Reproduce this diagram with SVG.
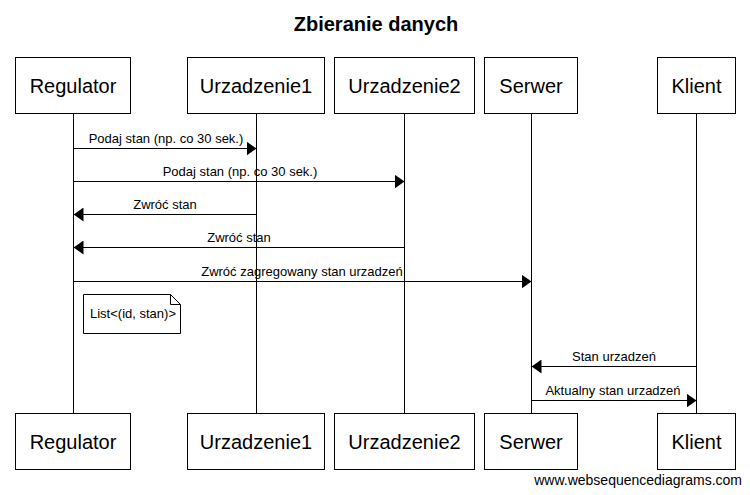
<svg xmlns="http://www.w3.org/2000/svg" width="750" height="495" viewBox="0 0 750 495">
<style>
.box{fill:#fff;stroke:#000;stroke-width:1}
.pl{font-family:"Liberation Sans",Arial,sans-serif;font-size:20px;text-anchor:middle;fill:#000}
.ml{font-family:"Liberation Sans",Arial,sans-serif;font-size:13px;text-anchor:middle;fill:#000}
.life{stroke:#000;stroke-width:1}
.msg{stroke:#000;stroke-width:1;fill:none}
</style>
<defs>
<marker id="ah" viewBox="0 0 10 14" refX="10" refY="7" markerWidth="10" markerHeight="14" markerUnits="userSpaceOnUse" orient="auto">
<path d="M0,0 L10,7 L0,14 Z" fill="#000"/>
</marker>
</defs>
<rect width="750" height="495" fill="#fff"/>
<text x="376" y="31" font-family="'Liberation Sans',Arial,sans-serif" font-size="20" font-weight="bold" text-anchor="middle">Zbieranie danych</text>
<g id="lifelines">
<line class="life" x1="73.5" y1="114" x2="73.5" y2="413"/>
<line class="life" x1="256.5" y1="114" x2="256.5" y2="413"/>
<line class="life" x1="404.5" y1="114" x2="404.5" y2="413"/>
<line class="life" x1="531.5" y1="114" x2="531.5" y2="413"/>
<line class="life" x1="696.5" y1="114" x2="696.5" y2="413"/>
</g>
<g id="Regulator">
<rect class="box" x="15.5" y="57.5" width="115" height="56"/>
<text class="pl" x="73" y="93">Regulator</text>
<rect class="box" x="15.5" y="413.5" width="115" height="56"/>
<text class="pl" x="73" y="449">Regulator</text>
</g>
<g id="Urzadzenie1">
<rect class="box" x="187.5" y="57.5" width="137" height="56"/>
<text class="pl" x="256" y="93">Urzadzenie1</text>
<rect class="box" x="187.5" y="413.5" width="137" height="56"/>
<text class="pl" x="256" y="449">Urzadzenie1</text>
</g>
<g id="Urzadzenie2">
<rect class="box" x="334.5" y="57.5" width="140" height="56"/>
<text class="pl" x="404.5" y="93">Urzadzenie2</text>
<rect class="box" x="334.5" y="413.5" width="140" height="56"/>
<text class="pl" x="404.5" y="449">Urzadzenie2</text>
</g>
<g id="Serwer">
<rect class="box" x="484.5" y="57.5" width="93" height="56"/>
<text class="pl" x="531" y="93">Serwer</text>
<rect class="box" x="484.5" y="413.5" width="93" height="56"/>
<text class="pl" x="531" y="449">Serwer</text>
</g>
<g id="Klient">
<rect class="box" x="657.5" y="57.5" width="78" height="56"/>
<text class="pl" x="696.5" y="93">Klient</text>
<rect class="box" x="657.5" y="413.5" width="78" height="56"/>
<text class="pl" x="696.5" y="449">Klient</text>
</g>
<g id="connectors">
<line class="msg" x1="73.5" y1="148.5" x2="256.5" y2="148.5" marker-end="url(#ah)"/>
<text class="ml" x="166" y="143">Podaj stan (np. co 30 sek.)</text>
<line class="msg" x1="73.5" y1="181.5" x2="404.5" y2="181.5" marker-end="url(#ah)"/>
<text class="ml" x="240" y="176">Podaj stan (np. co 30 sek.)</text>
<line class="msg" x1="256.5" y1="214.5" x2="73.5" y2="214.5" marker-end="url(#ah)"/>
<text class="ml" x="165" y="209">Zwróć stan</text>
<line class="msg" x1="404.5" y1="247.5" x2="73.5" y2="247.5" marker-end="url(#ah)"/>
<text class="ml" x="239" y="242">Zwróć stan</text>
<line class="msg" x1="73.5" y1="281.5" x2="531.5" y2="281.5" marker-end="url(#ah)"/>
<text class="ml" x="302" y="276">Zwróć zagregowany stan urzadzeń</text>
<line class="msg" x1="696.5" y1="366.5" x2="531.5" y2="366.5" marker-end="url(#ah)"/>
<text class="ml" x="614" y="361">Stan urzadzeń</text>
<line class="msg" x1="531.5" y1="400.5" x2="696.5" y2="400.5" marker-end="url(#ah)"/>
<text class="ml" x="613" y="395">Aktualny stan urzadzeń</text>
</g>
<g id="note">
<path d="M83.5,294.5 L170.5,294.5 L180.5,304.5 L180.5,333.5 L83.5,333.5 Z" fill="#fff" stroke="#000"/>
<path d="M170.5,294.5 L170.5,304.5 L180.5,304.5" fill="none" stroke="#000"/>
<text x="90" y="318" font-family="'Liberation Sans',Arial,sans-serif" font-size="13">List&lt;(id, stan)&gt;</text>
</g>
<text x="742" y="485" font-family="'Liberation Sans',Arial,sans-serif" font-size="14" text-anchor="end">www.websequencediagrams.com</text>
</svg>
